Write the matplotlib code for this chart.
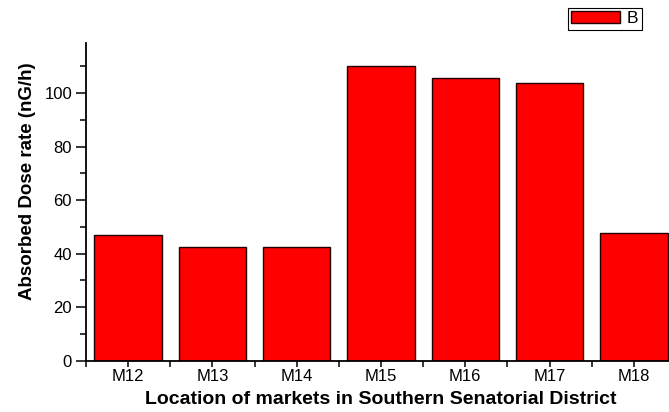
import matplotlib
matplotlib.use("Agg")
import matplotlib.pyplot as plt
import numpy as np
from matplotlib.ticker import MultipleLocator

plt.rcParams['font.family'] = ['Liberation Sans', 'DejaVu Sans']

# data
markets = ["M12", "M13", "M14", "M15", "M16", "M17", "M18"]
dose_rate = [47.1, 42.6, 42.6, 110.1, 105.5, 103.6, 47.6]  # nG/h

fig = plt.figure(figsize=(6.69, 4.12), dpi=100)
ax = fig.add_axes([86/669, 51.3/412, 590/669, 317.7/412])

x = np.arange(1, len(markets) + 1)
ax.bar(x, dose_rate, width=0.8, color="#ff0000", edgecolor="#200000", linewidth=1.0, label="B")

ax.set_xlim(0.5, 7.5)
ax.set_ylim(0, 118.7)
ax.set_xticks(x)
ax.set_xticklabels(markets)
ax.xaxis.set_minor_locator(MultipleLocator(1.0, offset=0.5))
ax.yaxis.set_major_locator(MultipleLocator(20))
ax.yaxis.set_minor_locator(MultipleLocator(10))

for s in ["top", "right"]:
	ax.spines[s].set_visible(False)
ax.spines["left"].set_linewidth(1.3)
ax.spines["bottom"].set_linewidth(1.3)

ax.tick_params(axis="y", which="major", length=7, width=1.1, labelsize=12, pad=3)
ax.tick_params(axis="y", which="minor", length=4, width=1.1)
ax.tick_params(axis="x", which="major", length=4, width=1.1, labelsize=12, pad=2)
ax.tick_params(axis="x", which="minor", length=4, width=1.1)

ax.set_xlabel("Location of markets in Southern Senatorial District", fontsize=14, fontweight="bold", labelpad=5)
ax.set_ylabel("Absorbed Dose rate (nG/h)", fontsize=13.5, fontweight="bold", labelpad=6)
ax.yaxis.label.set_y(0.566)

leg = fig.legend(loc="upper left", bbox_to_anchor=(567.5/669, 1 - 7.5/412), fontsize=12.5,
	fancybox=False, framealpha=1, edgecolor="black", handlelength=2.8, handleheight=0.7,
	borderpad=0.2, handletextpad=0.4, borderaxespad=0)
leg.get_frame().set_linewidth(0.8)

plt.savefig("out.png", dpi=100)
